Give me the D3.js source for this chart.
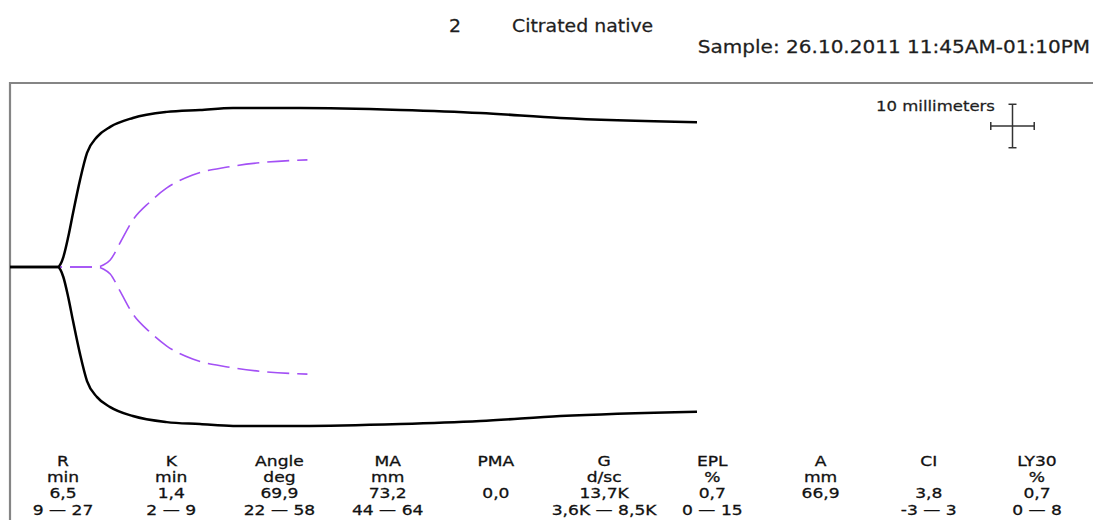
<!DOCTYPE html>
<html>
<head>
<meta charset="utf-8">
<script src="https://cdn.jsdelivr.net/npm/d3@7"></script>
<style>
  body { margin: 0; background: #fff; }
  svg { display: block; font-family: "DejaVu Sans", Verdana, sans-serif; }
</style>
</head>
<body>
<svg id="chart" width="1093" height="520"></svg>
<script>
// tracing data: time in minutes, amplitude in mm
const blackT = [0, 5.9, 6.25, 6.6, 7.2, 7.8, 8.66, 9.53, 10.77, 12.4, 15.2, 19.4, 23.5, 27.6, 35.9, 48.3, 58.2, 68.1, 85];
const blackA = [0, 0, 1.3, 4.6, 13.8, 24.9, 40.0, 52.5, 59.9, 64.5, 68.6, 71.4, 72.3, 73.2, 73.2, 72.3, 70.9, 68.6, 66.6];

const purpleT = [0, 10.8, 11.6, 12.4, 13.6, 15.2, 17.3, 19.4, 22.6, 26.9, 31.8, 36.8];
const purpleA = [0, 0, 1.0, 3.2, 11.0, 21.6, 29.9, 36.4, 42.4, 46.0, 48.3, 49.3];

// parameter table
const params = ["R", "K", "Angle", "MA", "PMA", "G", "EPL", "A", "CI", "LY30"];
const units = ["min", "min", "deg", "mm", "", "d/sc", "%", "mm", "", "%"];
const values = ["6,5", "1,4", "69,9", "73,2", "0,0", "13,7K", "0,7", "66,9", "3,8", "0,7"];
const ranges = ["9 \u2014 27", "2 \u2014 9", "22 \u2014 58", "44 \u2014 64", "", "3,6K \u2014 8,5K", "0 \u2014 15", "", "-3 \u2014 3", "0 \u2014 8"];

const sampleNo = "2";
const sampleName = "Citrated native";
const sampleTime = "Sample: 26.10.2011 11:45AM-01:10PM";
const scaleLabel = "10 millimeters";
const scaleMm = 10;

const svg = d3.select("#chart");

const x = d3.scaleLinear().domain([0, 85]).range([10, 697]);
// mm scale, centre line at 0 (each trace is drawn at +/- amplitude/2)
const y = d3.scaleLinear().domain([-40, 40]).range([267 + 173.8, 267 - 173.8]);

// frame (open to right and bottom)
svg.append("path")
   .attr("d", "M10,520 L10,83 L1093,83")
   .attr("fill", "none")
   .attr("stroke", "#858585")
   .attr("stroke-width", 2.2);

function traces(T, A) {
    let pts = T.map((t, i) => ({t: t, a: A[i]}));
    let up = d3.line().x(d => x(d.t)).y(d => y(d.a / 2)).curve(d3.curveMonotoneX);
    let dn = d3.line().x(d => x(d.t)).y(d => y(-d.a / 2)).curve(d3.curveMonotoneX);
    return [up(pts), dn(pts)];
}

svg.selectAll(".purple")
   .data(traces(purpleT, purpleA))
   .enter().append("path")
   .attr("class", "purple")
   .attr("d", d => d)
   .attr("fill", "none")
   .attr("stroke", "#a350f5")
   .attr("stroke-width", 1.6)
   .attr("stroke-dasharray", "22,8");

svg.selectAll(".black")
   .data(traces(blackT, blackA))
   .enter().append("path")
   .attr("class", "black")
   .attr("d", d => d)
   .attr("fill", "none")
   .attr("stroke", "#000")
   .attr("stroke-width", 2.5);

// header
function stretchText(txt, tx, ty, size, sx, anchor) {
    svg.append("text")
       .attr("transform", `translate(${tx},${ty}) scale(${sx},1)`)
       .attr("text-anchor", anchor)
       .attr("font-size", size)
       .attr("fill", "#1e1e1e")
       .attr("stroke", "#1e1e1e")
       .attr("stroke-width", 0.25)
       .text(txt);
}
stretchText(sampleNo, 455, 31.5, 17.5, 1.08, "middle");
stretchText(sampleName, 512, 31.5, 17.5, 1.08, "start");
stretchText(sampleTime, 1090, 53, 17.5, 1.145, "end");

// 10 mm scale cross
const cx = 1012.5, cy = 126;
const half = (y(0) - y(scaleMm)) / 2;
const cross = svg.append("g").attr("stroke", "#333").attr("stroke-width", 1.5);
cross.append("line").attr("x1", cx).attr("x2", cx).attr("y1", cy - half).attr("y2", cy + half);
cross.append("line").attr("x1", cx - half).attr("x2", cx + half).attr("y1", cy).attr("y2", cy);
[[cx - 4, cx + 4, cy - half, cy - half], [cx - 4, cx + 4, cy + half, cy + half],
 [cx - half, cx - half, cy - 4, cy + 4], [cx + half, cx + half, cy - 4, cy + 4]].forEach(l => {
    cross.append("line").attr("x1", l[0]).attr("x2", l[1]).attr("y1", l[2]).attr("y2", l[3]);
});
stretchText(scaleLabel, 876, 111, 14.5, 1.14, "start");

// parameter table
const col = d3.scalePoint().domain(params).range([63, 1037]);
const rows = [params, units, values, ranges];
const rowY = [466, 482, 498, 515];
rows.forEach((row, r) => {
    svg.selectAll(".row" + r)
       .data(row)
       .enter().append("text")
       .attr("class", "row" + r)
       .attr("transform", (d, i) => `translate(${col(params[i])},${rowY[r]}) scale(1.18,1)`)
       .attr("text-anchor", "middle")
       .attr("font-size", 14.5)
       .attr("fill", "#111")
       .attr("stroke", "#111")
       .attr("stroke-width", 0.3)
       .text(d => d);
});
</script>
</body>
</html>
